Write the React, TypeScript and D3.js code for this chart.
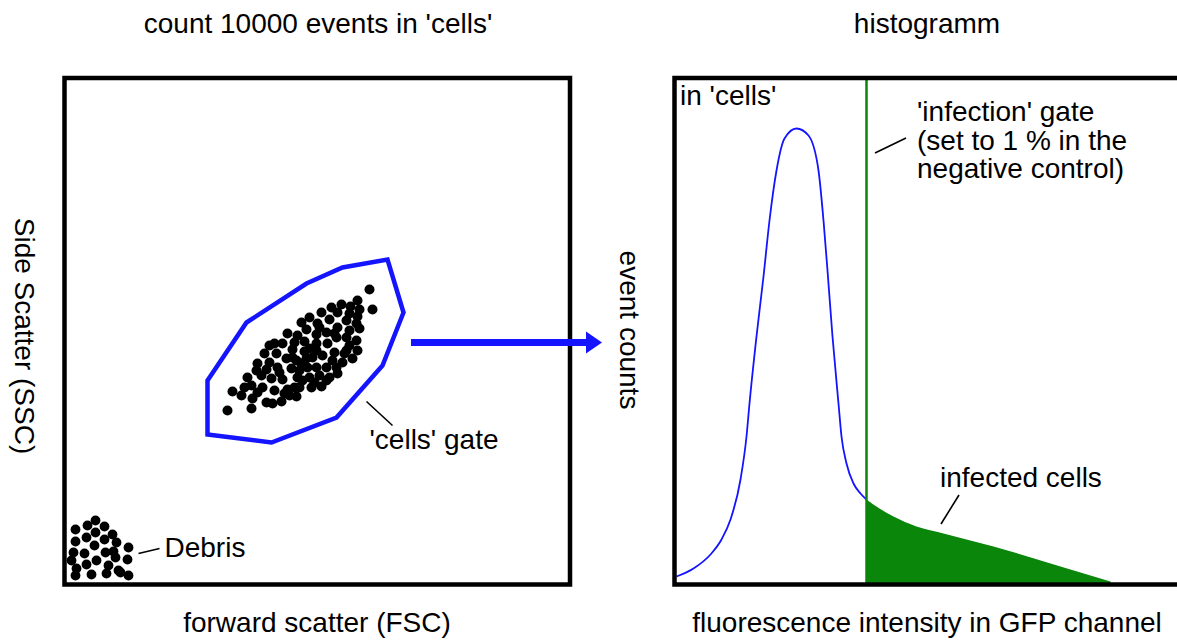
import React from "react";
import * as d3 from "d3";

// ---------------- DATA ----------------
const leftTitle = "count 10000 events in 'cells'";
const rightTitle = "histogramm";
const leftXLabel = "forward scatter (FSC)";
const leftYLabel = "Side Scatter (SSC)";
const rightXLabel = "fluorescence intensity in GFP channel";
const rightYLabel = "event counts";

// cells population (FSC, SSC in arbitrary units)
const cellsFSC = [305,308,293,277,286,267,295,257,273,285,293,245,237,253,265,282,292,223,242,273,262,252,233,285,295,282,272,292,240,230,252,263,210,205,218,228,240,252,270,282,293,200,212,258,280,222,232,242,248,268,278,193,205,237,213,227,243,252,262,192,202,235,183,197,207,218,233,245,255,265,273,187,198,210,223,235,247,257,230,168,177,232,220,188,202,208,217,163,187,228,238,250,262,272,285,288,255,270,245,215,225,193,180];
const cellsSSC = [295,275,284,280,278,277,275,272,272,271,268,267,262,261,265,264,261,251,255,257,252,250,249,254,256,247,247,244,243,242,241,241,241,239,241,235,233,234,232,234,234,231,231,229,231,226,224,226,227,224,222,221,222,221,217,216,217,217,217,214,215,214,207,209,206,205,207,207,209,207,211,199,197,194,195,197,197,198,197,193,189,188,191,186,182,181,183,174,176,227,204,202,204,217,239,226,257,251,236,212,189,192,197];

// debris population
const debrisFSC = [31,23,40,11,31,48,22,40,11,52,30,64,49,20,41,9,32,63,51,22,7,44,12,54,11,27,42,64,56];
const debrisSSC = [64,59,58,55,52,50,47,45,43,42,39,37,33,31,32,32,24,25,27,20,24,19,16,14,9,10,11,9,12];

// 'cells' gate polygon
const gateFSC = [143,182,242,278,323,339,318,272,207,143];
const gateSSC = [204,262,301,317,325,272,219,167,142,150];

// GFP histogram (negative part, up to gate)
const gfpIntensity = [2,19,36,47,56,66,72,75,82,89,95,102,110,122,134,144,149,153,158,164,167,172,179,186,192];
const gfpCounts = [8,16,30,45,65,105,148,181,248,308,364,414,446,456,449,414,364,314,248,181,148,121,101,91,85];

// infected part (beyond gate)
const infIntensity = [192,205,219,242,269,319,386,436];
const infCounts = [85,76,68,58,51,38,18,3];

const infectionGate = 192;
const gateNoteLines = ["'infection' gate", "(set to 1 % in the", "negative control)"];

// ---------------- LAYOUT ----------------
const W = 1177, H = 641;
const L = { x0: 64.5, x1: 570, y0: 78, y1: 584.5 };
const R = { x0: 674.5, x1: 1180, y0: 78, y1: 584.5 };
const FONT = "'Liberation Sans', Arial, Helvetica, sans-serif";
const FS = 28;
const BLUE = "#1414ff";
const GREEN = "#0a870a";

export default function App() {
  const lx = d3.scaleLinear().domain([0, 505.5]).range([L.x0, L.x1]);
  const ly = d3.scaleLinear().domain([0, 506.5]).range([L.y1, L.y0]);
  const rx = d3.scaleLinear().domain([0, 505.5]).range([R.x0, R.x1]);
  const ry = d3.scaleLinear().domain([0, 506.5]).range([R.y1, R.y0]);

  const cells = cellsFSC.map((f, i) => [f, cellsSSC[i]]);
  const debris = debrisFSC.map((f, i) => [f, debrisSSC[i]]);
  const gatePts = gateFSC.map((f, i) => [lx(f), ly(gateSSC[i])] as [number, number]);
  const gatePath = d3.line().curve(d3.curveLinearClosed)(gatePts) as string;

  const hist = gfpIntensity.map((v, i) => ({ x: v, y: gfpCounts[i] }));
  const inf = infIntensity.map((v, i) => ({ x: v, y: infCounts[i] }));
  const histLine = d3.line<{ x: number; y: number }>()
    .x(d => rx(d.x)).y(d => ry(d.y)).curve(d3.curveMonotoneX)(hist) as string;
  const infArea = d3.area<{ x: number; y: number }>()
    .x(d => rx(d.x)).y0(ry(0)).y1(d => ry(d.y)).curve(d3.curveMonotoneX)(inf) as string;

  const textStyle = { fontFamily: FONT, fontSize: FS, fill: "#000" } as const;

  return (
    <svg width={W} height={H} style={{ display: "block", background: "#fff" }}>
      <style>{`body{margin:0}`}</style>
      <defs>
        <clipPath id="rclip">
          <rect x={R.x0} y={R.y0} width={R.x1 - R.x0} height={R.y1 - R.y0} />
        </clipPath>
      </defs>

      {/* titles */}
      <text x={318} y={33} textAnchor="middle" style={textStyle}>{leftTitle}</text>
      <text x={927} y={33} textAnchor="middle" style={textStyle}>{rightTitle}</text>
      <text x={317} y={632} textAnchor="middle" style={textStyle}>{leftXLabel}</text>
      <text x={927} y={632} textAnchor="middle" style={textStyle}>{rightXLabel}</text>
      <text transform="translate(25,336) rotate(90)" textAnchor="middle" dy="0.35em" style={textStyle}>{leftYLabel}</text>
      <text transform="translate(630,330) rotate(90)" textAnchor="middle" dy="0.35em" style={textStyle}>{rightYLabel}</text>

      {/* left panel */}
      <path d={gatePath} fill="none" stroke={BLUE} strokeWidth={4.5} strokeLinejoin="miter" />
      {cells.map((p, i) => (
        <circle key={"c" + i} cx={lx(p[0])} cy={ly(p[1])} r={5} fill="#000" />
      ))}
      {debris.map((p, i) => (
        <circle key={"d" + i} cx={lx(p[0])} cy={ly(p[1])} r={4.9} fill="#000" />
      ))}
      <line x1={lx(302)} y1={ly(183)} x2={lx(328)} y2={ly(159)} stroke="#000" strokeWidth={1.6} />
      <text x={lx(305)} y={ly(136)} style={textStyle}>'cells' gate</text>
      <line x1={lx(74)} y1={ly(31)} x2={lx(95)} y2={ly(36)} stroke="#000" strokeWidth={1.6} />
      <text x={lx(100)} y={ly(28)} style={textStyle}>Debris</text>
      <rect x={L.x0} y={L.y0} width={L.x1 - L.x0} height={L.y1 - L.y0} fill="none" stroke="#000" strokeWidth={4.5} />

      {/* arrow */}
      <line x1={411} y1={342.5} x2={588} y2={342.5} stroke={BLUE} strokeWidth={7} />
      <path d="M586,331.5 L602,342.5 L586,353.5 Z" fill={BLUE} />

      {/* right panel */}
      <g clipPath="url(#rclip)">
        <path d={infArea} fill={GREEN} />
        <path d={histLine} fill="none" stroke={BLUE} strokeWidth={1.8} />
        <line x1={rx(infectionGate)} y1={R.y0} x2={rx(infectionGate)} y2={R.y1} stroke={GREEN} strokeWidth={2.5} />
      </g>
      <text x={rx(5.5)} y={ry(479.5)} style={textStyle}>in 'cells'</text>
      <line x1={rx(200.5)} y1={ry(431.5)} x2={rx(231.5)} y2={ry(446.5)} stroke="#000" strokeWidth={1.6} />
      {gateNoteLines.map((t, i) => (
        <text key={t} x={rx(242.5)} y={ry(463.5 - i * 28.5)} style={textStyle}>{t}</text>
      ))}
      <line x1={rx(284.5)} y1={ry(89.5)} x2={rx(266.5)} y2={ry(60.5)} stroke="#000" strokeWidth={1.6} />
      <text x={rx(265.5)} y={ry(98)} style={textStyle}>infected cells</text>
      <rect x={R.x0} y={R.y0} width={R.x1 - R.x0} height={R.y1 - R.y0} fill="none" stroke="#000" strokeWidth={4.5} />
    </svg>
  );
}
